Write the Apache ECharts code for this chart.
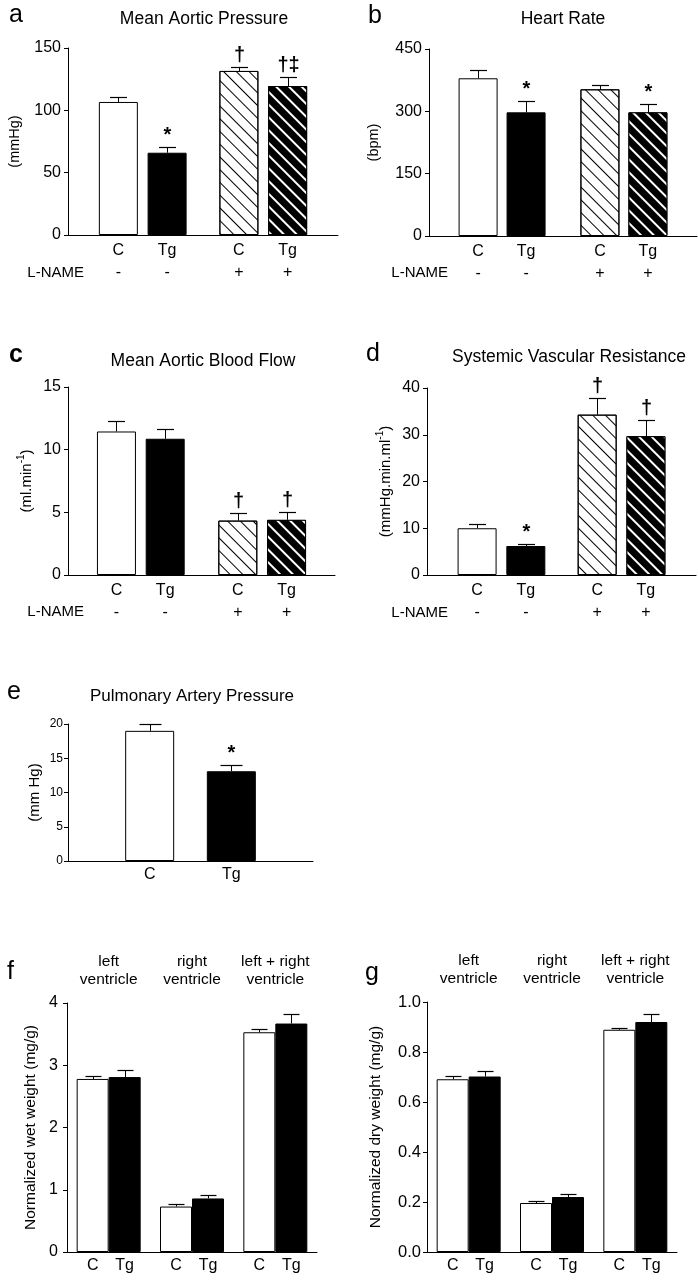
<!DOCTYPE html>
<html><head><meta charset="utf-8">
<script src="https://cdn.jsdelivr.net/npm/echarts@6/dist/echarts.min.js"></script>
<style>html,body{margin:0;padding:0;background:#fff}#c{width:698px;height:1280px}</style>
</head><body><div id="c"></div>
<script>
// ================= DATA =================
const lnameGroups = ['-', '+'];          // L-NAME treatment per group (panels a-d)
const seriesNames = ['C', 'Tg'];

// a: Mean Aortic Pressure (mmHg)
const aC = [106.7, 131.6];   const aCsem = [4.2, 3.4];   const aCsig = ['', '†'];
const aTg = [66.0, 119.5];   const aTgsem = [4.6, 7.5];  const aTgsig = ['*', '†‡'];
const aTicks = [0, 150, 50];
// b: Heart Rate (bpm)
const bC = [379.5, 353];     const bCsem = [20, 10];     const bCsig = ['', ''];
const bTg = [297.6, 297.6];  const bTgsem = [27, 21];    const bTgsig = ['*', '*'];
const bTicks = [0, 450, 150];
// c: Mean Aortic Blood Flow (ml/min)
const cC = [11.45, 4.34];    const cCsem = [0.8, 0.59];  const cCsig = ['', '†'];
const cTg = [10.87, 4.4];    const cTgsem = [0.77, 0.6]; const cTgsig = ['', '†'];
const cTicks = [0, 15, 5];
// d: Systemic Vascular Resistance
const dC = [10.0, 34.3];     const dCsem = [0.85, 3.6];  const dCsig = ['', '†'];
const dTg = [6.2, 29.7];     const dTgsem = [0.5, 3.35]; const dTgsig = ['*', '†'];
const dTicks = [0, 40, 10];
// e: Pulmonary Artery Pressure (mm Hg)
const eCats = ['C', 'Tg'];
const eVals = [19.0, 13.1];  const eSem = [1.0, 0.95];   const eSig = ['', '*'];
const eTicks = [0, 20, 5];
// f, g: ventricle weights
const ventCats = ['left\nventricle', 'right\nventricle', 'left + right\nventricle'];
const fC = [2.78, 0.73, 3.53];   const fCsem = [0.05, 0.04, 0.06];
const fTg = [2.81, 0.86, 3.67];  const fTgsem = [0.11, 0.055, 0.16];
const fTicks = [0, 4, 1];
const gC = [0.691, 0.196, 0.889];  const gCsem = [0.013, 0.007, 0.009];
const gTg = [0.702, 0.22, 0.92];   const gTgsem = [0.024, 0.013, 0.034];
const gTicks = [0, 1, 0.2];

// ================= STYLE / BUILD =================
const FONT = '"Liberation Sans", Arial, Helvetica, sans-serif';
const BLACK = '#000';
const hatchOnWhite = {symbol: 'rect', symbolSize: 1, color: '#000', dashArrayX: [1, 0], dashArrayY: [1, 7.2], rotation: Math.PI / 4};
const hatchOnBlack = {symbol: 'rect', symbolSize: 1, color: '#fff', dashArrayX: [1, 0], dashArrayY: [1.4, 6.6], rotation: Math.PI / 4};

const option = {
  backgroundColor: '#fff', animation: false,
  grid: [], xAxis: [], yAxis: [], series: [], graphic: []
};

function errRender(offsetPx, capW, sigs) {
  return function (params, api) {
    const x = api.value(0), y = api.value(1), s = api.value(2);
    const p0 = api.coord([x, y]);
    const p1 = api.coord([x, y + s]);
    const px = Math.round(p0[0] + offsetPx) + 0.5;
    const ty = Math.round(p1[1]) + 0.5;
    const ch = [
      {type: 'line', shape: {x1: px, y1: p0[1], x2: px, y2: ty}, style: {stroke: BLACK, lineWidth: 1}},
      {type: 'line', shape: {x1: px - capW / 2, y1: ty, x2: px + capW / 2, y2: ty}, style: {stroke: BLACK, lineWidth: 1.2}}
    ];
    const sig = sigs ? sigs[params.dataIndex] : '';
    if (sig) {
      ch.push({type: 'text', x: px, y: ty - 2,
        style: {text: sig, textAlign: 'center', textVerticalAlign: 'bottom', fill: BLACK,
          font: 'bold 20px ' + FONT}});
    }
    return {type: 'group', children: ch};
  };
}

function addPanel(p) {
  const gi = option.grid.length;
  option.grid.push({left: p.left, top: p.top, width: p.width, height: p.height});
  const xi = option.xAxis.length;
  const axisLine = {show: true, onZero: false, lineStyle: {color: BLACK, width: 1}};
  if (p.xType === 'value') {
    option.xAxis.push({type: 'value', gridIndex: gi, min: p.xMin, max: p.xMax,
      axisLine: axisLine, axisTick: {show: false}, axisLabel: {show: false}, splitLine: {show: false}});
  } else {
    option.xAxis.push({type: 'category', gridIndex: gi, data: p.cats, position: 'bottom',
      axisLine: axisLine, axisTick: {show: false}, axisLabel: {show: false}, splitLine: {show: false}});
    option.xAxis.push({type: 'category', gridIndex: gi, data: p.cats, position: 'top',
      axisLine: {show: false}, axisTick: {show: false}, splitLine: {show: false},
      axisLabel: {show: true, color: BLACK, fontFamily: FONT, fontSize: 15.5, lineHeight: 18, margin: 14, interval: 0}});
  }
  const yi = option.yAxis.length;
  option.yAxis.push({type: 'value', gridIndex: gi, min: p.ticks[0], max: p.ticks[1], interval: p.ticks[2],
    position: 'left',
    name: p.yName, nameLocation: 'middle', nameGap: p.nameGap, nameRotate: 90,
    nameTextStyle: {color: BLACK, fontFamily: FONT, fontSize: p.nameSize || 15, rich: {
      n: {fontFamily: FONT, fontSize: p.nameSize || 15, color: BLACK, lineHeight: 18, verticalAlign: 'bottom'},
      s: {fontFamily: FONT, fontSize: 10, color: BLACK, lineHeight: 18, verticalAlign: 'top'}}},
    axisLine: axisLine, axisTick: {show: true, length: 4, lineStyle: {color: BLACK}},
    axisLabel: {color: BLACK, fontFamily: FONT, fontSize: p.tickSize || 16, margin: p.tickMargin || 7,
      formatter: p.tickFmt || (v => String(v))},
    splitLine: {show: false}});

  p.bars.forEach(b => {
    option.series.push({
      type: 'bar', name: b.name, xAxisIndex: xi, yAxisIndex: yi,
      barWidth: p.barWidth, barGap: p.barGap,
      data: b.data,
      itemStyle: {color: b.color, borderColor: BLACK, borderWidth: 1},
      label: {show: true, position: 'bottom', distance: p.labelDist, color: BLACK, fontFamily: FONT,
        fontSize: 16, lineHeight: 22, formatter: b.labelFmt}
    });
    option.series.push({
      type: 'custom', xAxisIndex: xi, yAxisIndex: yi, z: 5, silent: true,
      renderItem: errRender(b.offset, p.capW, b.sig),
      data: b.errData
    });
  });
}

function txt(x, y, text, size, align, weight) {
  option.graphic.push({type: 'text', x: x, y: y, silent: true,
    style: {text: text, fill: BLACK, textAlign: align || 'center', textVerticalAlign: 'middle',
      font: (weight || 'normal') + ' ' + size + 'px ' + FONT}});
}

// Panels a-d: two groups (L-NAME - / +), C and Tg bars
function lnamePanel(cfg) {
  const bw = 39, gapFrac = cfg.gapFrac;
  const off = bw * (1 + gapFrac) / 2;
  const mk = (vals, sems, sigs, name, color, hatch, sign) => ({
    name: name, color: color, offset: sign * off, sig: sigs,
    data: vals.map((v, i) => lnameGroups[i] === '+'
      ? {value: [i, v], itemStyle: {decal: hatch}} : {value: [i, v]}),
    errData: vals.map((v, i) => [i, v, sems[i]]),
    labelFmt: prm => name + '\n' + lnameGroups[prm.dataIndex]
  });
  addPanel({
    left: cfg.left, top: cfg.top, width: cfg.width, height: cfg.height,
    xType: 'value', xMin: cfg.xMin, xMax: cfg.xMax,
    ticks: cfg.ticks, yName: cfg.yName, nameGap: cfg.nameGap, nameSize: cfg.nameSize,
    barWidth: bw, barGap: (gapFrac * 100) + '%', capW: 17, labelDist: 5,
    bars: [
      mk(cfg.C, cfg.Csem, cfg.Csig, seriesNames[0], '#fff', hatchOnWhite, -1),
      mk(cfg.Tg, cfg.Tgsem, cfg.Tgsig, seriesNames[1], '#000', hatchOnBlack, 1)
    ]
  });
}

lnamePanel({left: 68, top: 48, width: 270, height: 187, xMin: -0.62, xMax: 1.62, gapFrac: 0.25,
  ticks: aTicks, yName: '(mmHg)', nameGap: 46, nameSize: 14.5,
  C: aC, Csem: aCsem, Csig: aCsig, Tg: aTg, Tgsem: aTgsem, Tgsig: aTgsig});
lnamePanel({left: 429, top: 49, width: 268, height: 187, xMin: -0.6, xMax: 1.6, gapFrac: 0.23,
  ticks: bTicks, yName: '(bpm)', nameGap: 48, nameSize: 14.5,
  C: bC, Csem: bCsem, Csig: bCsig, Tg: bTg, Tgsem: bTgsem, Tgsig: bTgsig});
lnamePanel({left: 68, top: 387, width: 267, height: 188, xMin: -0.6, xMax: 1.6, gapFrac: 0.25,
  ticks: cTicks, yName: '{n|(ml.min}{s|-1}{n|)}', nameGap: 34, nameSize: 15,
  C: cC, Csem: cCsem, Csig: cCsig, Tg: cTg, Tgsem: cTgsem, Tgsig: cTgsig});
lnamePanel({left: 427, top: 388, width: 269, height: 187, xMin: -0.62, xMax: 1.62, gapFrac: 0.25,
  ticks: dTicks, yName: '{n|(mmHg.min.ml}{s|-1}{n|)}', nameGap: 34, nameSize: 15,
  C: dC, Csem: dCsem, Csig: dCsig, Tg: dTg, Tgsem: dTgsem, Tgsig: dTgsig});

// Panel e
addPanel({
  left: 68, top: 724, width: 245, height: 137, xType: 'value', xMin: -1, xMax: 2,
  ticks: eTicks, yName: '(mm Hg)', nameGap: 26, nameSize: 15, tickSize: 12, tickMargin: 5,
  barWidth: 49, barGap: '0%', capW: 22, labelDist: 3,
  bars: [{
    name: 'e', color: '#fff', offset: 0, sig: eSig,
    data: eVals.map((v, i) => ({value: [i, v], itemStyle: {color: i === 0 ? '#fff' : '#000'}})),
    errData: eVals.map((v, i) => [i, v, eSem[i]]),
    labelFmt: prm => eCats[prm.dataIndex]
  }]
});

// Panels f, g
function ventPanel(cfg) {
  const bw = 32;
  addPanel({
    left: cfg.left, top: cfg.top, width: cfg.width, height: cfg.height, xType: 'category', cats: ventCats,
    ticks: cfg.ticks, yName: cfg.yName, nameGap: cfg.nameGap, nameSize: 15.5, tickSize: cfg.tickSize,
    tickMargin: cfg.tickMargin, tickFmt: cfg.tickFmt,
    barWidth: bw, barGap: '0%', capW: 16, labelDist: 3,
    bars: [
      {name: seriesNames[0], color: '#fff', offset: -bw / 2, sig: null,
        data: cfg.C, errData: cfg.C.map((v, i) => [i, v, cfg.Csem[i]]), labelFmt: () => seriesNames[0]},
      {name: seriesNames[1], color: '#000', offset: bw / 2, sig: null,
        data: cfg.Tg, errData: cfg.Tg.map((v, i) => [i, v, cfg.Tgsem[i]]), labelFmt: () => seriesNames[1]}
    ]
  });
}
ventPanel({left: 67, top: 1003, width: 250, height: 249, ticks: fTicks, yName: 'Normalized wet weight (mg/g)',
  nameGap: 28, tickSize: 16, tickMargin: 9, C: fC, Csem: fCsem, Tg: fTg, Tgsem: fTgsem});
ventPanel({left: 427, top: 1002, width: 250, height: 250, ticks: gTicks, yName: 'Normalized dry weight (mg/g)',
  nameGap: 43, tickSize: 16.5, tickMargin: 6, tickFmt: v => v.toFixed(1),
  C: gC, Csem: gCsem, Tg: gTg, Tgsem: gTgsem});

// Titles, panel letters, L-NAME row labels
txt(204, 19, 'Mean Aortic Pressure', 17.5);
txt(563, 19, 'Heart Rate', 17.5);
txt(203, 361, 'Mean Aortic Blood Flow', 17.5);
txt(569, 357, 'Systemic Vascular Resistance', 17.5);
txt(192, 696, 'Pulmonary Artery Pressure', 17);
txt(9, 15, 'a', 25, 'left');
txt(368, 16, 'b', 25, 'left');
txt(9, 355, 'c', 25, 'left', 'bold');
txt(366, 354, 'd', 25, 'left');
txt(7, 692, 'e', 25, 'left');
txt(7, 972, 'f', 25, 'left');
txt(365, 973, 'g', 25, 'left');
txt(84, 273, 'L-NAME', 15, 'right');
txt(448, 273, 'L-NAME', 15, 'right');
txt(84, 612, 'L-NAME', 15, 'right');
txt(448, 613, 'L-NAME', 15, 'right');

const chart = echarts.init(document.getElementById('c'), null, {renderer: 'canvas'});
chart.setOption(option);
</script>
</body></html>
